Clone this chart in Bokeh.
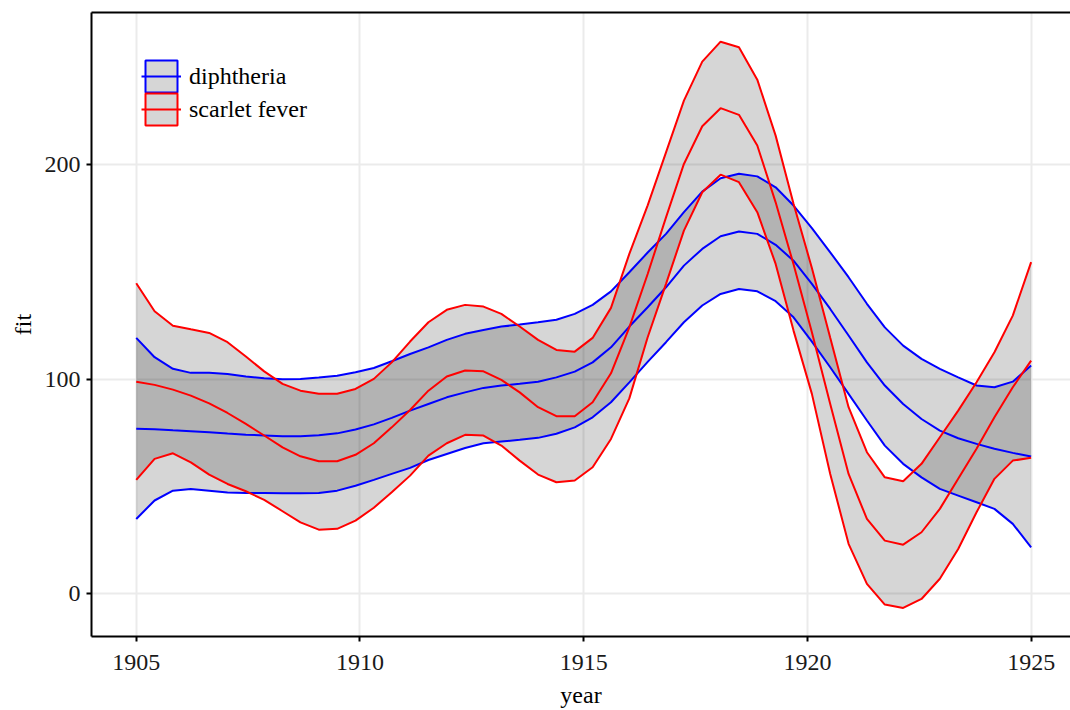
from bokeh.plotting import figure
from bokeh.models import (Range1d, FixedTicker, LinearAxis, Legend, LegendItem,
                          ColumnDataSource)
from bokeh.embed import file_html
from bokeh.resources import INLINE

year = [1905.00, 1905.41, 1905.82, 1906.22, 1906.63, 1907.04, 1907.45, 1907.86, 1908.27, 1908.67,
        1909.08, 1909.49, 1909.90, 1910.31, 1910.71, 1911.12, 1911.53, 1911.94, 1912.35, 1912.76,
        1913.16, 1913.57, 1913.98, 1914.39, 1914.80, 1915.20, 1915.61, 1916.02, 1916.43, 1916.84,
        1917.24, 1917.65, 1918.06, 1918.47, 1918.88, 1919.29, 1919.69, 1920.10, 1920.51, 1920.92,
        1921.33, 1921.73, 1922.14, 1922.55, 1922.96, 1923.37, 1923.78, 1924.18, 1924.59, 1925.00]

dip_upper = [119.2, 110.2, 104.8, 102.9, 102.9, 102.4, 101.2, 100.4, 99.9, 100.1,
             100.7, 101.6, 103.2, 105.2, 108.3, 111.7, 114.8, 118.3, 121.1, 122.9,
             124.5, 125.4, 126.5, 127.7, 130.4, 134.6, 140.9, 149.8, 159.0, 167.7,
             177.8, 187.4, 193.6, 195.7, 194.5, 189.4, 180.9, 170.4, 159.1, 147.5,
             135.1, 124.1, 115.6, 109.4, 104.8, 100.8, 97.0, 96.2, 98.8, 106.3]
dip_fit = [76.9, 76.6, 76.1, 75.7, 75.2, 74.6, 74.1, 73.7, 73.3, 73.3,
           73.8, 74.7, 76.5, 78.9, 81.9, 85.3, 88.4, 91.5, 93.8, 95.9,
           97.0, 97.8, 98.8, 100.8, 103.5, 107.8, 114.8, 124.5, 133.5, 142.8,
           152.9, 160.7, 166.6, 168.8, 167.7, 162.6, 155.2, 144.4, 132.7, 120.3,
           107.8, 97.0, 88.4, 81.4, 76.0, 72.4, 69.8, 67.5, 65.6, 63.9]
dip_lower = [34.8, 43.4, 48.0, 48.8, 48.0, 47.1, 46.9, 46.9, 46.8, 46.8,
             46.9, 48.0, 50.3, 53.0, 55.8, 58.6, 62.3, 65.1, 67.9, 70.1,
             70.9, 71.7, 72.6, 74.5, 77.5, 82.2, 89.2, 98.5, 108.0, 117.2,
             126.5, 134.3, 139.7, 142.0, 140.9, 136.3, 128.8, 117.5, 105.5, 93.1,
             80.7, 69.0, 60.5, 54.2, 48.8, 45.7, 42.6, 39.5, 32.5, 21.6]

sf_upper = [144.7, 131.6, 124.9, 123.2, 121.5, 117.2, 110.5, 103.6, 97.8, 94.6,
            93.2, 93.2, 95.4, 100.1, 107.8, 117.5, 126.5, 132.3, 134.6, 133.8,
            130.4, 124.5, 118.3, 113.6, 112.8, 119.2, 133.2, 158.4, 181.0, 205.7,
            229.8, 248.0, 257.3, 254.7, 239.6, 213.5, 181.7, 151.8, 119.3, 86.9,
            65.9, 54.2, 52.4, 60.5, 72.9, 85.3, 98.5, 112.5, 129.6, 154.5]
sf_fit = [98.8, 97.3, 95.1, 92.3, 88.7, 84.2, 79.1, 73.7, 68.2, 64.0,
          61.7, 61.7, 64.7, 70.1, 77.5, 85.6, 94.6, 101.2, 104.0, 103.6,
          99.6, 93.8, 86.9, 82.7, 82.7, 89.2, 102.7, 124.1, 149.0, 175.4,
          200.3, 217.9, 226.3, 223.2, 208.9, 182.4, 153.5, 121.8, 88.4, 55.8,
          34.8, 24.7, 22.8, 28.6, 39.5, 53.5, 67.5, 82.2, 96.2, 108.6]
sf_lower = [53.0, 62.8, 65.4, 61.2, 55.5, 51.1, 47.7, 43.7, 38.4, 33.2,
            29.8, 30.2, 34.0, 40.0, 47.2, 55.0, 64.3, 70.1, 74.0, 73.7,
            69.0, 62.0, 55.5, 51.9, 52.7, 58.9, 72.1, 91.0, 119.5, 144.4,
            169.2, 187.1, 195.3, 191.8, 177.8, 153.7, 122.6, 93.1, 55.8, 23.2,
            4.5, -5.1, -6.7, -2.5, 6.9, 20.8, 37.9, 53.5, 62.0, 63.3]

series_names = ["diphtheria", "scarlet fever"]
series_colors = ["#0000FF", "#FF0000"]
x_ticks = [1905, 1910, 1915, 1920, 1925]
y_ticks = [0, 100, 200]

FONT = "Liberation Serif"
FS = "24px"

p = figure(width=1070, height=710, output_backend="svg", toolbar_location=None,
           x_range=Range1d(1904, 1925.88), y_range=Range1d(-20.0, 270.9),
           min_border_left=91, min_border_top=12, min_border_bottom=74, min_border_right=0)
p.outline_line_color = None
p.background_fill_color = "white"
p.border_fill_color = "white"

for g in (p.xgrid, p.ygrid):
    g.grid_line_color = "#EBEBEB"
    g.grid_line_width = 2
p.xgrid.ticker = FixedTicker(ticks=x_ticks)
p.ygrid.ticker = FixedTicker(ticks=y_ticks)

for ax in (p.xaxis[0], p.yaxis[0]):
    ax.axis_line_color = "black"
    ax.axis_line_width = 2
    ax.major_tick_line_color = "black"
    ax.major_tick_line_width = 2
    ax.major_tick_out = 5
    ax.major_tick_in = 0
    ax.minor_tick_out = 0
    ax.minor_tick_in = 0
    ax.major_label_text_font = FONT
    ax.major_label_text_font_size = FS
    ax.major_label_text_color = "#1A1A1A"
    ax.axis_label_text_font = FONT
    ax.axis_label_text_font_size = FS
    ax.axis_label_text_font_style = "normal"
    ax.axis_label_text_color = "black"
p.xaxis.ticker = FixedTicker(ticks=x_ticks)
p.yaxis.ticker = FixedTicker(ticks=y_ticks)
p.xaxis.major_label_standoff = 13
p.xaxis.axis_label = "year"
p.xaxis.axis_label_standoff = 9
p.yaxis.major_label_standoff = 6
p.yaxis.axis_label = "fit"
p.yaxis.axis_label_standoff = 6

top_axis = LinearAxis(ticker=FixedTicker(ticks=[]), axis_line_color="black", axis_line_width=2,
                      major_tick_out=0, major_tick_in=0, minor_tick_out=0, minor_tick_in=0,
                      major_label_text_font_size="0px", major_label_standoff=0)
p.add_layout(top_axis, "above")

bands = [(dip_lower, dip_fit, dip_upper), (sf_lower, sf_fit, sf_upper)]
for lo, fi, up in bands:
    p.varea(x=year, y1=lo, y2=up, fill_color="black", fill_alpha=0.16)

legend_items = []
for (lo, fi, up), name, col in zip(bands, series_names, series_colors):
    p.line(year, lo, line_color=col, line_width=2)
    p.line(year, up, line_color=col, line_width=2)
    fit_line = p.line(year, fi, line_color=col, line_width=2)
    nan = float("nan")
    key_src = ColumnDataSource(dict(left=[nan], right=[nan], top=[nan], bottom=[nan]))
    box = p.quad(left="left", right="right", top="top", bottom="bottom", source=key_src,
                 fill_color="#D6D6D6", line_color=col, line_width=2)
    legend_items.append(LegendItem(label=name, renderers=[box, fit_line]))

# one legend per key so the two keys sit flush, as in the reference
for item, loc in zip(legend_items, [(50, 540), (50, 507)]):
    lg = Legend(items=[item], location=loc, padding=0, margin=0, spacing=0,
                glyph_width=40, glyph_height=40, label_height=40, label_standoff=8,
                label_text_font=FONT, label_text_font_size=FS, label_text_color="black",
                label_text_baseline="middle",
                border_line_color=None, background_fill_alpha=0)
    p.add_layout(lg)

open("out.html", "w").write(file_html(p, INLINE))
